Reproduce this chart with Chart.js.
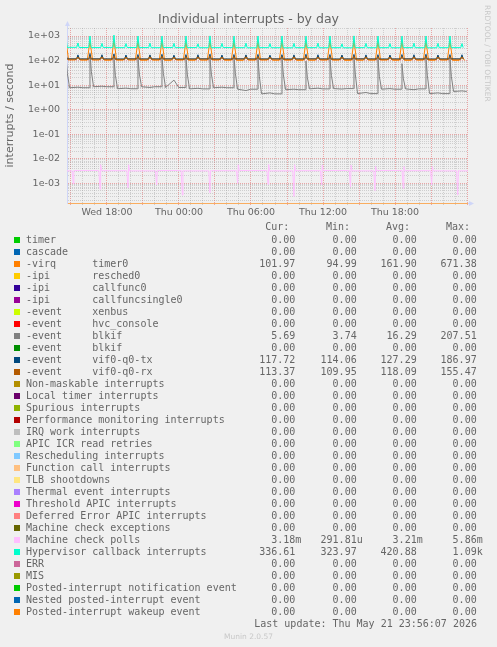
<!DOCTYPE html>
<html>
<head>
<meta charset="utf-8">
<script src="https://cdn.jsdelivr.net/npm/chart.js@4/dist/chart.umd.min.js"></script>
<style>
body { margin: 0; background: #f0f0f0; }
#wrap { position: relative; width: 497px; height: 647px; overflow: hidden; font-family: 'DejaVu Sans Mono', monospace; font-size: 10px; color: #666; }
#chart { position: absolute; left: 0; top: 0; }
#title { position: absolute; left: 0; top: 11px; width: 497px; text-align: center; font: 12.5px/15px 'DejaVu Sans', sans-serif; color: #666; }
#rrd { position: absolute; left: 483px; top: 5px; writing-mode: vertical-rl; font: 7.5px/9px 'DejaVu Sans', sans-serif; color: #c8c8c8; }
.row { position: absolute; left: 0; width: 497px; height: 12px; line-height: 12px; white-space: pre; }
.sw { position: absolute; left: 14px; top: 3px; width: 6px; height: 6px; }
.lbl { position: absolute; left: 26px; }
.num { position: absolute; text-align: right; }
#munin { position: absolute; left: 0; top: 631px; width: 497px; text-align: center; font: 7.5px/11px 'DejaVu Sans', sans-serif; color: #c8c8c8; }
</style>
</head>
<body>
<div id="wrap">
    <canvas id="chart" width="497" height="230"></canvas>
    <div id="title">Individual interrupts - by day</div>
    <div id="rrd">RRDTOOL / TOBI OETIKER</div>
    <div id="legend"></div>
    <div id="munin">Munin 2.0.57</div>
</div>
<script>
// time axis in hours counted from Wed 00:00
const xMin = 14.667, xMax = 48.083
const xLabelHours = [18, 24, 30, 36, 42]
const xLabels = ['Wed 18:00', 'Thu 00:00', 'Thu 06:00', 'Thu 12:00', 'Thu 18:00']
const yMin = 1.57e-4, yMax = 2121
const yLabelValues = [1e-3, 1e-2, 1e-1, 1, 10, 100, 1000]
const yLabels = ['1e-03', '1e-02', '1e-01', '1e+00', '1e+01', '1e+02', '1e+03']

// hourly spikes (xen timer / vif / hypervisor callbacks)
const spikeHours = [14.58, 15.58, 16.58, 17.58, 18.58, 19.58, 20.58, 21.58, 22.58, 23.58, 24.58, 25.58, 26.58, 27.58, 28.58, 29.58, 30.58,
    31.58, 32.58, 33.58, 34.58, 35.58, 36.58, 37.58, 38.58, 39.58, 40.58, 41.58, 42.58, 43.58, 44.58, 45.58, 46.58, 47.58]
const hvPeak = [980, 520, 1000, 500, 1090, 490, 1000, 510, 990, 500, 1000, 480, 1010, 500, 990, 510, 1000,
    490, 1000, 500, 990, 510, 1000, 480, 1010, 500, 1000, 490, 990, 510, 1000, 500, 1000, 490]
const hvBase = [345, 340, 338, 342, 336, 340, 338, 335, 340, 336, 338, 334, 336, 338, 335, 332, 336,
    334, 332, 335, 336, 333, 335, 332, 336, 334, 335, 333, 336, 334, 332, 335, 336, 336]
const timerPeak = [640, 150, 620, 155, 671, 150, 610, 160, 630, 150, 600, 155, 640, 150, 620, 160, 600,
    150, 630, 155, 610, 150, 640, 160, 620, 150, 600, 155, 630, 150, 610, 160, 640, 150]
const timerBase = [106, 104, 105, 103, 104, 105, 103, 104, 102, 105, 103, 104, 105, 103, 102, 104, 105,
    103, 104, 102, 103, 105, 104, 102, 103, 104, 105, 103, 102, 104, 103, 105, 102, 102]
const txPeak = [180, 170, 178, 172, 187, 168, 176, 170, 180, 166, 175, 172, 182, 168, 176, 170, 178,
    166, 174, 170, 180, 172, 176, 168, 178, 170, 174, 168, 176, 172, 180, 168, 175, 172]
const txBase = [118, 117, 118, 117, 116, 118, 117, 117, 118, 116, 117, 118, 117, 116, 118, 117, 117,
    118, 116, 117, 118, 117, 116, 117, 118, 117, 116, 117, 118, 117, 116, 117, 118, 118]
const rxPeak = [150, 140, 148, 142, 155, 140, 146, 142, 150, 138, 145, 142, 152, 140, 146, 142, 148,
    138, 145, 142, 150, 140, 146, 140, 148, 142, 145, 140, 146, 142, 150, 140, 146, 142]
const rxBase = [114, 113, 114, 113, 112, 114, 113, 113, 114, 112, 113, 114, 113, 112, 114, 113, 113,
    114, 112, 113, 114, 113, 112, 113, 114, 113, 112, 113, 114, 113, 112, 113, 113, 113]

// blkif bursts every two hours
const blkHours = [14.58, 16.58, 18.58, 20.58, 22.58, 24.58, 26.58, 28.58, 30.58, 32.58, 34.58, 36.58, 38.58, 40.58, 42.58, 44.58, 46.58]
const blkPeak = [150, 207, 120, 125, 140, 135, 125, 150, 130, 135, 95, 130, 140, 120, 75, 130, 125]
const blkTail = [30, 35, 25, 28, 30, 26, 28, 30, 22, 26, 20, 25, 26, 22, 18, 24, 22]
const blkBase = [7.8, 8.6, 7.1, 8.6, 8.0, 7.0, 7.8, 6.8, 4.4, 6.5, 7.0, 7.2, 4.5, 6.8, 7.0, 4.5, 5.5]
const blkMid = [8.2, 9.0, 7.5, 8.0, 16, 7.4, 8.2, 6.0, 4.8, 6.8, 7.5, 6.9, 5.0, 7.2, 6.5, 4.8, 5.8]

// machine check polls
const mcHours = [15.19, 17.42, 19.75, 22.14, 24.28, 26.58, 28.89, 31.42, 33.58, 35.89, 38.29, 40.33, 42.69, 45.06, 47.23]
const mcDip = [9.5e-4, 5.7e-4, 6.5e-4, 8.5e-4, 3.3e-4, 4.1e-4, 1.0e-3, 9.0e-4, 2.9e-4, 8.5e-4, 7.0e-4, 5.0e-4, 6.2e-4, 8.5e-4, 3.3e-4]
const mcPeak = [3.3e-3, 5.7e-3, 5.7e-3, 3.3e-3, 3.3e-3, 3.3e-3, 5.7e-3, 5.86e-3, 5.7e-3, 5.5e-3, 5.5e-3, 5.0e-3, 4.8e-3, 4.8e-3, 3.3e-3]
const mcLevel = [3.2e-3, 3.3e-3, 3.25e-3, 3.2e-3, 3.3e-3, 3.2e-3, 3.25e-3, 3.3e-3, 3.2e-3, 3.25e-3, 3.3e-3, 3.2e-3, 3.3e-3, 3.25e-3, 3.2e-3, 3.2e-3]

// series that stay at zero the whole day
const zeroLine = [0, 0]

const names = ['timer', 'cascade', '-virq      timer0', '-ipi       resched0', '-ipi       callfunc0', '-ipi       callfuncsingle0',
    '-event     xenbus', '-event     hvc_console', '-event     blkif', '-event     blkif', '-event     vif0-q0-tx', '-event     vif0-q0-rx',
    'Non-maskable interrupts', 'Local timer interrupts', 'Spurious interrupts', 'Performance monitoring interrupts', 'IRQ work interrupts',
    'APIC ICR read retries', 'Rescheduling interrupts', 'Function call interrupts', 'TLB shootdowns', 'Thermal event interrupts',
    'Threshold APIC interrupts', 'Deferred Error APIC interrupts', 'Machine check exceptions', 'Machine check polls',
    'Hypervisor callback interrupts', 'ERR', 'MIS', 'Posted-interrupt notification event', 'Nested posted-interrupt event',
    'Posted-interrupt wakeup event']
const colors = ['#00CC00', '#0066B3', '#FF8000', '#FFCC00', '#330099', '#990099', '#CCFF00', '#FF0000', '#808080', '#008F00',
    '#00487D', '#B35A00', '#B38F00', '#6B006B', '#8FB300', '#B30000', '#BEBEBE', '#80FF80', '#80C9FF', '#FFC080', '#FFE680',
    '#AA80FF', '#EE00CC', '#FF8080', '#666600', '#FFBFFF', '#00FFCC', '#CC6699', '#999900', '#00CC00', '#0066B3', '#FF8000']
const curVals = ['0.00', '0.00', '101.97', '0.00', '0.00', '0.00', '0.00', '0.00', '5.69', '0.00', '117.72', '113.37',
    '0.00', '0.00', '0.00', '0.00', '0.00', '0.00', '0.00', '0.00', '0.00', '0.00', '0.00', '0.00', '0.00',
    '3.18m', '336.61', '0.00', '0.00', '0.00', '0.00', '0.00']
const minVals = ['0.00', '0.00', '94.99', '0.00', '0.00', '0.00', '0.00', '0.00', '3.74', '0.00', '114.06', '109.95',
    '0.00', '0.00', '0.00', '0.00', '0.00', '0.00', '0.00', '0.00', '0.00', '0.00', '0.00', '0.00', '0.00',
    '291.81u', '323.97', '0.00', '0.00', '0.00', '0.00', '0.00']
const avgVals = ['0.00', '0.00', '161.90', '0.00', '0.00', '0.00', '0.00', '0.00', '16.29', '0.00', '127.29', '118.09',
    '0.00', '0.00', '0.00', '0.00', '0.00', '0.00', '0.00', '0.00', '0.00', '0.00', '0.00', '0.00', '0.00',
    '3.21m', '420.88', '0.00', '0.00', '0.00', '0.00', '0.00']
const maxVals = ['0.00', '0.00', '671.38', '0.00', '0.00', '0.00', '0.00', '0.00', '207.51', '0.00', '186.97', '155.47',
    '0.00', '0.00', '0.00', '0.00', '0.00', '0.00', '0.00', '0.00', '0.00', '0.00', '0.00', '0.00', '0.00',
    '5.86m', '1.09k', '0.00', '0.00', '0.00', '0.00', '0.00']
const lastUpdate = 'Last update: Thu May 21 23:56:07 2026'

const GRID = 'rgba(150,150,150,0.38)'
const MGRID = 'rgba(225,90,90,0.5)'
const AXIS = '#CFD6F8'
// rrdtool puts the all-zero series on the floor of a log graph; the last one drawn is orange
const FLOOR = 'rgba(255,128,0,0.6)'

function spikes(peaks, bases, w) {
    let pts = []
    for (let i = 0; i < spikeHours.length; i++) {
        pts.push({x: spikeHours[i] - w, y: bases[i ? i - 1 : 0]})
        pts.push({x: spikeHours[i], y: peaks[i]})
        pts.push({x: spikeHours[i] + w, y: bases[i]})
    }
    return pts
}

function blkifPoints() {
    let pts = []
    for (let i = 0; i < blkHours.length; i++) {
        let h = blkHours[i]
        pts.push({x: h - 0.05, y: blkBase[i ? i - 1 : 0]})
        pts.push({x: h, y: blkPeak[i]})
        pts.push({x: h + 0.12, y: blkTail[i]})
        pts.push({x: h + 0.3, y: blkBase[i]})
        pts.push({x: h + 1, y: blkMid[i]})
        pts.push({x: h + 1.4, y: blkBase[i]})
    }
    return pts
}

function mcPoints() {
    let pts = [{x: xMin - 0.2, y: mcLevel[0]}]
    for (let i = 0; i < mcHours.length; i++) {
        let t = mcHours[i]
        pts.push({x: t - 0.1, y: mcLevel[i]})
        pts.push({x: t, y: mcDip[i]})
        pts.push({x: t + 0.05, y: mcPeak[i]})
        pts.push({x: t + 0.13, y: mcLevel[i + 1]})
    }
    pts.push({x: xMax + 0.2, y: mcLevel[mcLevel.length - 1]})
    return pts
}

const seriesData = {
    2: spikes(timerPeak, timerBase, 0.22),
    8: blkifPoints(),
    10: spikes(txPeak, txBase, 0.1),
    11: spikes(rxPeak, rxBase, 0.1),
    25: mcPoints(),
    26: spikes(hvPeak, hvBase, 0.1)
}

let datasets = names.map((name, i) => ({
    label: name,
    data: seriesData[i] || [{x: xMin, y: zeroLine[0]}, {x: xMax, y: zeroLine[1]}],
    borderColor: colors[i],
    borderWidth: 1,
    pointRadius: 0,
    tension: 0,
    order: -i
}))

function isDecade(v) {
    let l = Math.log10(v)
    return Math.abs(l - Math.round(l)) < 1e-9
}

let yGrid = []
for (let e = -4; e <= 3; e++) {
    for (let m = 1; m <= 9; m++) {
        let v = m * Math.pow(10, e)
        if (v >= yMin && v <= yMax) yGrid.push(v)
    }
}
let xGrid = []
for (let h = Math.ceil(xMin); h <= xMax; h++) xGrid.push(h)

const axisArrows = {
    id: 'axisArrows',
    beforeDatasetsDraw(chart) {
        const {ctx, chartArea: a} = chart
        ctx.save()
        ctx.strokeStyle = AXIS
        ctx.fillStyle = AXIS
        ctx.lineWidth = 1
        ctx.beginPath()
        ctx.moveTo(a.left + 0.5, a.top)
        ctx.lineTo(a.left + 0.5, a.top - 3)
        ctx.moveTo(a.right, a.bottom + 0.5)
        ctx.lineTo(a.right + 3, a.bottom + 0.5)
        ctx.stroke()
        ctx.beginPath()
        ctx.moveTo(a.left - 2, a.top - 2)
        ctx.lineTo(a.left + 3, a.top - 2)
        ctx.lineTo(a.left + 0.5, a.top - 7)
        ctx.fill()
        ctx.beginPath()
        ctx.moveTo(a.right + 1, a.bottom - 2)
        ctx.lineTo(a.right + 1, a.bottom + 3)
        ctx.lineTo(a.right + 6, a.bottom + 0.5)
        ctx.fill()
        ctx.restore()
    }
}

const tickFont = {family: 'DejaVu Sans', size: 9.5}

new Chart(document.getElementById('chart'), {
    type: 'line',
    data: {datasets: datasets},
    options: {
        responsive: false,
        animation: false,
        layout: {padding: {top: 28, right: 29, bottom: 5, left: 0}},
        plugins: {legend: {display: false}, title: {display: false}, tooltip: {enabled: false}},
        scales: {
            x: {
                type: 'linear', min: xMin, max: xMax,
                afterBuildTicks: s => { s.ticks = xGrid.map(v => ({value: v})) },
                afterFit: s => { s.height = 22 },
                ticks: {
                    autoSkip: false, maxRotation: 0, padding: 2, font: tickFont, color: '#666',
                    callback: v => { let k = xLabelHours.indexOf(v); return k < 0 ? '' : xLabels[k] }
                },
                grid: { color: c => c.tick && c.tick.value % 3 === 0 ? MGRID : GRID, tickLength: 2 },
                border: { color: FLOOR, dash: [1, 1] }
            },
            y: {
                type: 'logarithmic', min: yMin, max: yMax,
                afterBuildTicks: s => { s.ticks = yGrid.map(v => ({value: v})) },
                afterFit: s => { s.width = 67 },
                ticks: {
                    autoSkip: false, padding: 7, font: tickFont, color: '#666',
                    callback: v => {
                        let k = yLabelValues.findIndex(y => Math.abs(y - v) / y < 1e-9)
                        return k < 0 ? '' : yLabels[k]
                    }
                },
                grid: { color: c => c.tick && isDecade(c.tick.value) ? MGRID : GRID, drawTicks: false },
                border: { color: AXIS, dash: [1, 1] },
                title: {
                    display: true, text: 'interrupts / second', color: '#666',
                    font: {family: 'DejaVu Sans', size: 11}, padding: {top: 4, bottom: 0}
                }
            }
        }
    },
    plugins: [axisArrows]
})

// legend table under the graph
function fmt(s) {
    return /\d$/.test(s) ? s + ' ' : s
}

let legend = document.getElementById('legend')
let headRight = [207.7, 147, 87, 27]
let numRight = [195.7, 134.3, 74.3, 14.3]
let head = document.createElement('div')
head.className = 'row'
head.style.top = (227.3 - 6) + 'px'
;['Cur:', 'Min:', 'Avg:', 'Max:'].forEach((t, k) => {
    let s = document.createElement('span')
    s.className = 'num'
    s.style.right = headRight[k] + 'px'
    s.textContent = t
    head.appendChild(s)
})
legend.appendChild(head)

names.forEach((name, i) => {
    let row = document.createElement('div')
    row.className = 'row'
    row.style.top = (239.7 + 12 * i - 6) + 'px'
    let sw = document.createElement('span')
    sw.className = 'sw'
    sw.style.background = colors[i]
    row.appendChild(sw)
    let lb = document.createElement('span')
    lb.className = 'lbl'
    lb.textContent = name
    row.appendChild(lb)
    ;[curVals, minVals, avgVals, maxVals].forEach((arr, k) => {
        let s = document.createElement('span')
        s.className = 'num'
        s.style.right = numRight[k] + 'px'
        s.textContent = fmt(arr[i])
        row.appendChild(s)
    })
    legend.appendChild(row)
})

let upd = document.createElement('div')
upd.className = 'row'
upd.style.top = (624 - 6) + 'px'
let us = document.createElement('span')
us.className = 'num'
us.style.right = '20px'
us.textContent = lastUpdate
upd.appendChild(us)
legend.appendChild(upd)
</script>
</body>
</html>
